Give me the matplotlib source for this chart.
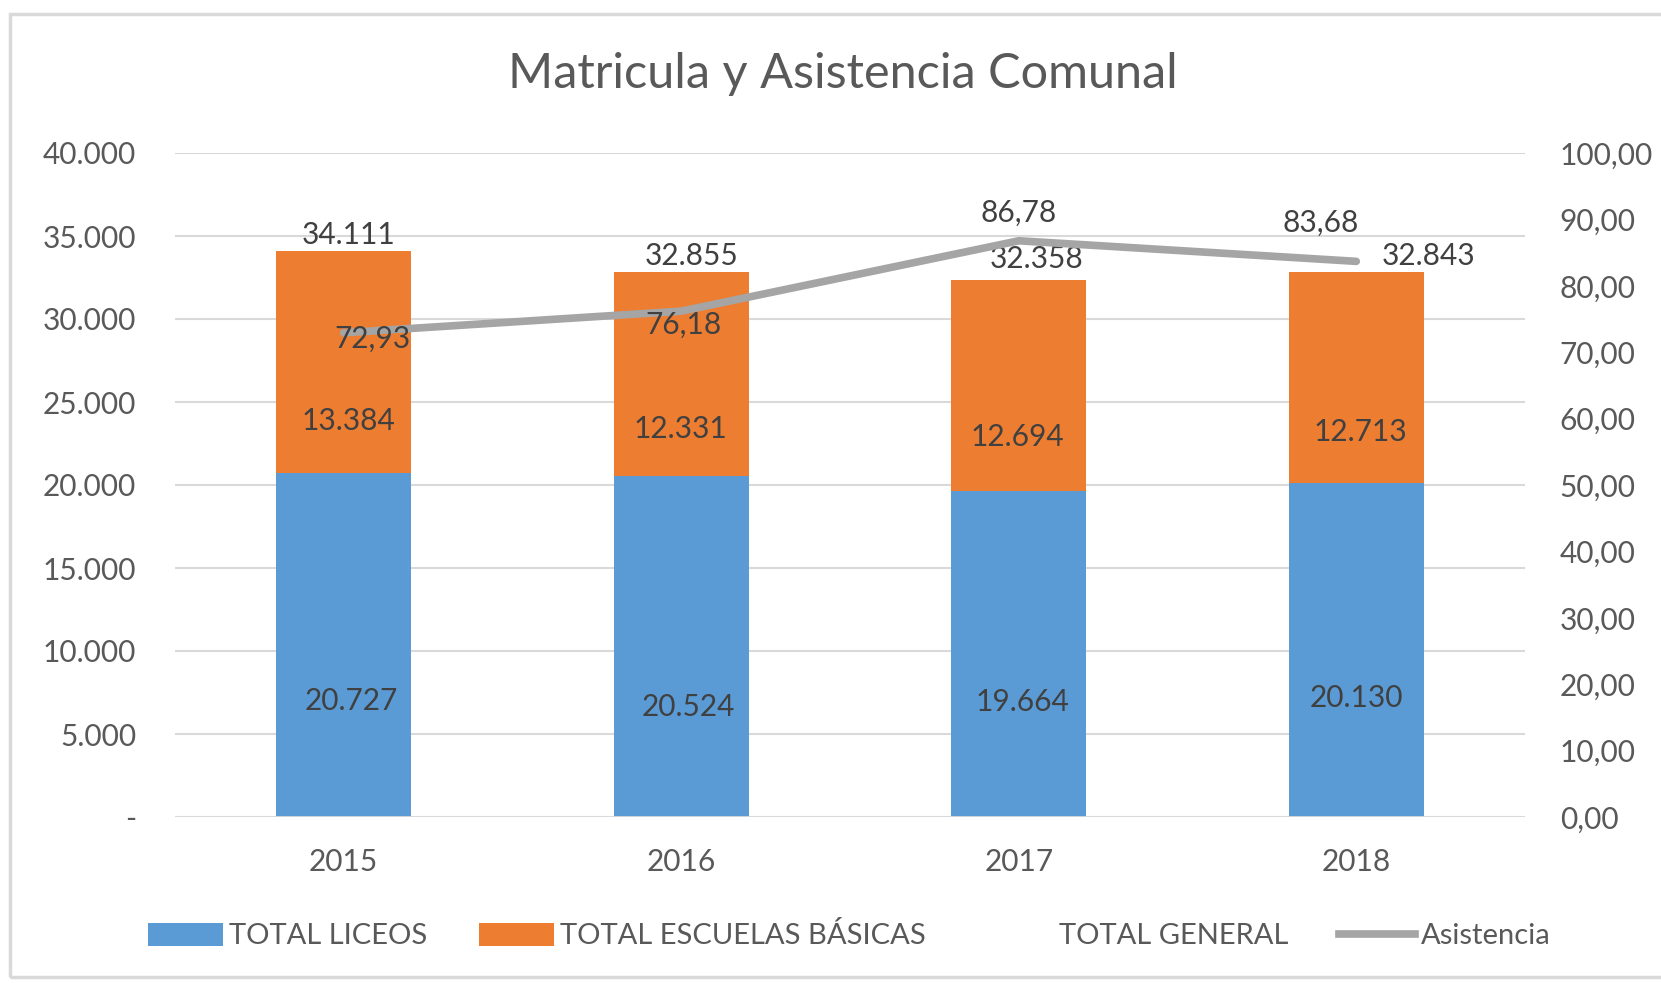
import matplotlib
matplotlib.use("Agg")
import matplotlib.pyplot as plt
from matplotlib.patches import Patch, Rectangle
from matplotlib.lines import Line2D
from matplotlib.ticker import FixedLocator, FuncFormatter

plt.rcParams['font.family'] = ['Lato', 'DejaVu Sans']

years = ['2015', '2016', '2017', '2018']
liceos = [20727, 20524, 19664, 20130]
basicas = [13384, 12331, 12694, 12713]
total_general = [34111, 32855, 32358, 32843]
asistencia = [72.93, 76.18, 86.78, 83.68]

BLUE = '#5B9BD5'
ORANGE = '#ED7D31'
GRAY = '#A5A5A5'
TXT = '#404040'
TICK = '#595959'
GRID = '#D9D9D9'

fig = plt.figure(figsize=(16.61, 9.83), dpi=100)
W, H = 1661, 983
ax = fig.add_axes([175 / W, 1 - 817 / H, (1525 - 175) / W, (817 - 153) / H])
ax2 = ax.twinx()

x = list(range(len(years)))
ax.bar(x, liceos, width=0.4, color=BLUE, zorder=2)
ax.bar(x, basicas, width=0.4, bottom=liceos, color=ORANGE, zorder=2)

ax.set_xlim(-0.5, 3.5)
ax.set_ylim(0, 40000)
ax2.set_ylim(0, 100)

ax.yaxis.set_major_locator(FixedLocator([i * 5000 for i in range(9)]))
def fmt_left(v, p):
    if v == 0:
        return '-'
    return f'{int(v):,}'.replace(',', '.')
ax.yaxis.set_major_formatter(FuncFormatter(fmt_left))
ax2.yaxis.set_major_locator(FixedLocator([i * 10 for i in range(11)]))
ax2.yaxis.set_major_formatter(FuncFormatter(lambda v, p: f'{v:.2f}'.replace('.', ',')))

ax.set_xticks(x)
ax.set_xticklabels(years)
ax.grid(axis='y', color=GRID, lw=1.5, zorder=0)
ax.set_axisbelow(True)
for a in (ax, ax2):
    for s in ('top', 'left', 'right', 'bottom'):
        a.spines[s].set_visible(False)
ax.axhline(0, color=GRID, lw=2, zorder=3)

TFS = 21.5
ax.tick_params(axis='y', length=0, pad=28, labelsize=TFS, labelcolor=TICK)
ax.tick_params(axis='x', length=0, pad=22, labelsize=TFS, labelcolor=TICK)
ax2.tick_params(axis='y', length=0, pad=25, labelsize=TFS, labelcolor=TICK)

ax2.plot(x, asistencia, color=GRAY, lw=5.5, solid_capstyle='round', solid_joinstyle='round', zorder=4)
ax2.set_zorder(ax.get_zorder() + 1)
ax2.patch.set_visible(False)

# data labels (pixel offsets)
blue_dx = [8, 7, 4, 0]
blue_dy = [-56, -60, -48, -48]
orange_dx = [5, -1, -1, 4]
orange_dy = [-59, -55, -52, -55]
total_dx = [5, 10, 18, 72]
total_dy = [2, 2, 7, 2]
asis_dx = [29, 2, 0, -36]
asis_dy = [-6, -14, 28, 39]

fs = 21.5
for i in x:
    ax.annotate(f'{liceos[i]:,}'.replace(',', '.'), (i, liceos[i] / 2),
                xytext=(blue_dx[i], blue_dy[i]), textcoords='offset pixels',
                ha='center', va='center', fontsize=fs, color=TXT, zorder=5)
    ax.annotate(f'{basicas[i]:,}'.replace(',', '.'), (i, liceos[i] + basicas[i] / 2),
                xytext=(orange_dx[i], orange_dy[i]), textcoords='offset pixels',
                ha='center', va='center', fontsize=fs, color=TXT, zorder=5)
    ax.annotate(f'{total_general[i]:,}'.replace(',', '.'), (i, total_general[i]),
                xytext=(total_dx[i], total_dy[i]), textcoords='offset pixels',
                ha='center', va='bottom', fontsize=fs, color=TXT, zorder=5)
    ax2.annotate(f'{asistencia[i]:.2f}'.replace('.', ','), (i, asistencia[i]),
                 xytext=(asis_dx[i], asis_dy[i]), textcoords='offset pixels',
                 ha='center', va='center', fontsize=fs, color=TXT, zorder=6)

fig.text(843 / W, 1 - 74 / H, 'Matricula y Asistencia Comunal', ha='center', va='center',
         fontsize=35, color=TICK)

handles = [Patch(facecolor=BLUE), Patch(facecolor=ORANGE),
           Patch(facecolor='none', edgecolor='none'),
           Line2D([0], [0], color=GRAY, lw=5.5)]
labels = ['TOTAL LICEOS', 'TOTAL ESCUELAS BÁSICAS', 'TOTAL GENERAL', 'Asistencia']
leg = fig.legend(handles, labels, loc='center', bbox_to_anchor=(849 / W, 1 - 936 / H),
                 ncol=4, frameon=False, fontsize=21, handlelength=2.6, handleheight=0.8,
                 handletextpad=0.2, columnspacing=1.75)
for t in leg.get_texts():
    t.set_color(TICK)

fig.patches.append(Rectangle((10 / W, 1 - 977 / H), 1.0, (977 - 14) / H,
                             transform=fig.transFigure, fill=False, edgecolor=GRID, lw=2.5))

fig.savefig('out.png', dpi=100)
